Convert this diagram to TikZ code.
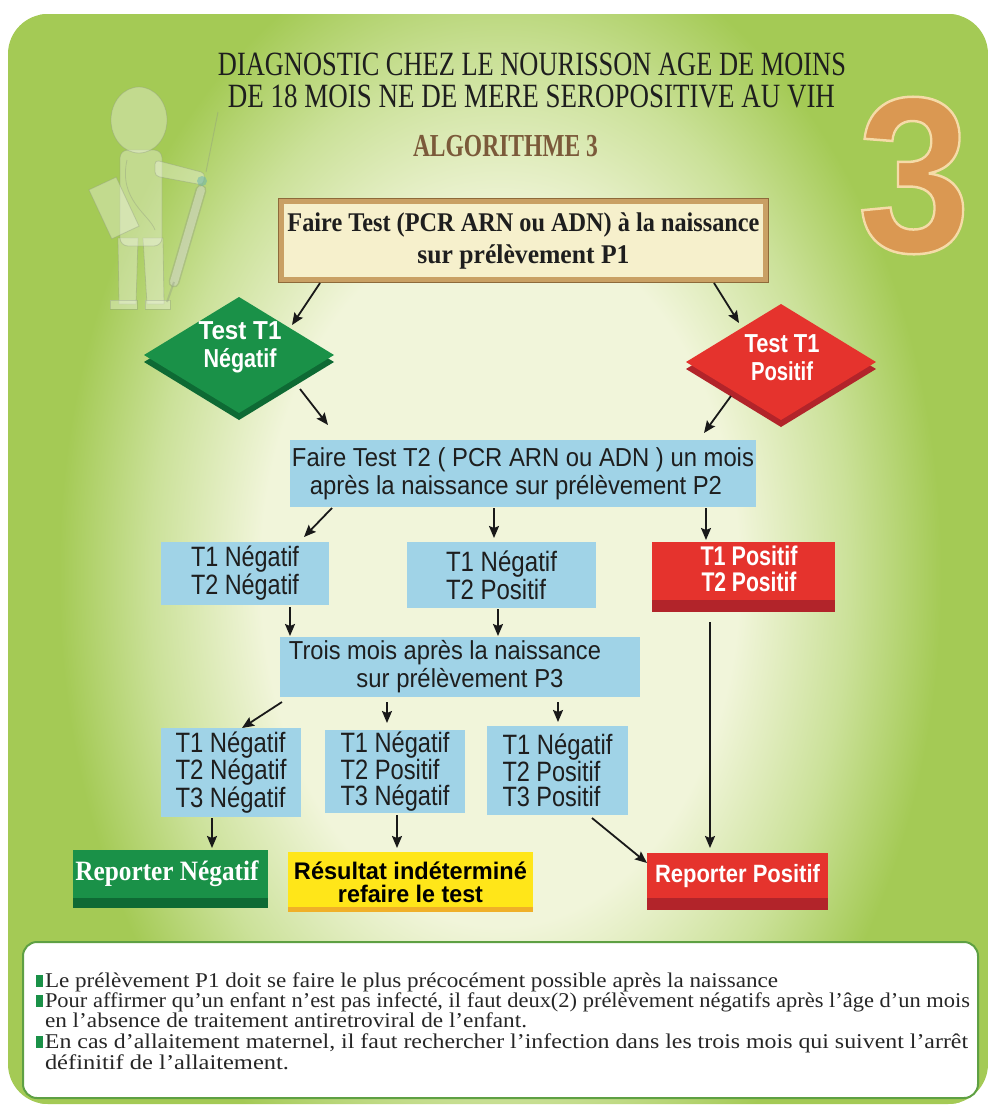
\documentclass[tikz,border=0pt]{standalone}
\usepackage{fontspec}
\usepackage{graphicx}
\setmainfont{Liberation Serif}
\newfontfamily\sansf{Liberation Sans}
\usetikzlibrary{shapes.geometric,arrows.meta,calc,shadows}

\definecolor{panelgreen}{HTML}{A4CA55}
\definecolor{panelmid}{HTML}{CBE199}
\definecolor{panelpale}{HTML}{F1F5DA}
\definecolor{boxblue}{HTML}{A0D3E7}
\definecolor{alertred}{HTML}{E5332D}
\definecolor{alertdark}{HTML}{B2242A}
\definecolor{okgreen}{HTML}{1A9148}
\definecolor{okdark}{HTML}{0E6A34}
\definecolor{warnyellow}{HTML}{FFE619}
\definecolor{warnorange}{HTML}{F0B028}
\definecolor{framegold}{HTML}{C9A064}
\definecolor{framedark}{HTML}{8E6A3A}
\definecolor{cream}{HTML}{F6F0CC}
\definecolor{titlebrown}{HTML}{7B5A3A}
\definecolor{notegreen}{HTML}{5EA043}
\definecolor{goldmain}{HTML}{DA9852}
\definecolor{figfill}{HTML}{F4F6EC}
\definecolor{figline}{HTML}{8F9A80}
\definecolor{inkdark}{HTML}{1E1E1E}

% the path covers the central 50bp of a shading, so 25bp is the path edge
\pgfdeclareradialshading{panelglow}{\pgfpoint{0bp}{0bp}}{%
  color(0bp)=(panelpale); color(13bp)=(panelpale); color(19bp)=(panelmid);
  color(24bp)=(panelgreen); color(50bp)=(panelgreen)}

% one line of text squeezed to a given width (in pt), height kept
\newcommand\fitline[2]{\resizebox{#1pt}{\height}{#2}}
% glyphs filled and stroked with a light rim
\newcommand\rimtext[1]{\special{pdf:literal direct 2 Tr 2.5 w 0.96 0.86 0.66 RG}#1\special{pdf:literal direct 0 Tr}}

\tikzset{
  every node/.style={inner sep=0pt, outer sep=0pt},
  arr/.style={-{Stealth[length=12pt,width=10pt,inset=2pt]}, line width=1.8pt, draw=black!90},
  framebox/.style={fill=cream, draw=framegold, line width=5pt,
    preaction={draw=framedark, line width=7pt}, align=center, text=inkdark},
  bluebox/.style={fill=boxblue, text=inkdark, align=left},
  redbox/.style={fill=alertred, path picture={\fill[alertdark]
    (path picture bounding box.south west) rectangle ([yshift=12pt]path picture bounding box.south east);}},
  greenbox/.style={fill=okgreen, path picture={\fill[okdark]
    (path picture bounding box.south west) rectangle ([yshift=10pt]path picture bounding box.south east);}},
  yellowbox/.style={fill=warnyellow, align=center, text=black, path picture={\fill[warnorange]
    (path picture bounding box.south west) rectangle ([yshift=5pt]path picture bounding box.south east);}},
  decision/.style={diamond, minimum width=190pt, minimum height=116pt},
  bluefont/.style={font=\sansf\fontsize{28}{28}\selectfont},
  tallfont/.style={font=\sansf\fontsize{28}{25.5}\selectfont},
  whitebold/.style={text=white, align=center, font=\sansf\bfseries\fontsize{26}{28}\selectfont},
}

\begin{document}
\begin{tikzpicture}[x=1pt,y=-1pt]
\useasboundingbox (0,0) rectangle (992,1106);
\fill[white] (0,0) rectangle (992,1106);

% green panel with an oval pale glow in the middle
\begin{scope}
  \clip[rounded corners=40pt] (8,14) rectangle (988,1104);
  \fill[panelgreen] (8,14) rectangle (988,1104);
  \shade[shading=panelglow] (40,-100) rectangle (960,1250);
\end{scope}

% ghosted doctor with syringe, top left
\begin{scope}[opacity=0.38, line width=0.8pt]
  \filldraw[fill=figfill, draw=figline] (118,238) -- (138,238) -- (136,304) -- (119,304) -- cycle;
  \filldraw[fill=figfill, draw=figline] (143,238) -- (163,238) -- (164,304) -- (147,304) -- cycle;
  \filldraw[fill=figfill, draw=figline] (110,300) rectangle (137,309);
  \filldraw[fill=figfill, draw=figline] (145,300) rectangle (170,309);
  \filldraw[fill=figfill, draw=figline, rounded corners=8pt] (120,150) rectangle (162,246);
  \filldraw[fill=figfill, draw=figline, rounded corners=4pt] (155,160) -- (205,173) -- (203,185) -- (155,176) -- cycle;
  \filldraw[fill=figfill, draw=figline] (139,120) ellipse [x radius=28, y radius=33];
  \filldraw[fill=figfill, draw=figline, rotate around={25:(114,208)}] (99,181) rectangle (129,235);
  \draw[figline] (127,160) .. controls (118,200) and (150,215) .. (155,230);
  \draw[figline, line width=1pt] (218,112) -- (206,172);
  \draw[figline, line width=11pt, line cap=round] (201,190) -- (174,282);
  \draw[figfill, line width=8pt, line cap=round] (201,190) -- (174,282);
  \draw[figline, line width=2pt] (174,282) -- (167,302);
\end{scope}
\fill[teal!60, opacity=0.5] (202,181) circle [radius=5];

% big number in the top right corner
\node[text=goldmain, font=\sansf\bfseries\fontsize{222}{222}\selectfont] (n3) at (914,175.5)
  {\fitline{113}{\rimtext{3}}};

% headings
\node[anchor=base, text=inkdark, font=\fontsize{34}{34}\selectfont] (title1) at (532,75) {\fitline{628}{DIAGNOSTIC CHEZ LE NOURISSON AGE DE MOINS}};
\node[anchor=base, text=inkdark, font=\fontsize{34}{34}\selectfont] (title2) at (531.5,107) {\fitline{607}{DE 18 MOIS NE DE MERE SEROPOSITIVE AU VIH}};
\node[anchor=base, text=titlebrown, font=\bfseries\fontsize{32}{32}\selectfont] (algo) at (505.5,156) {\fitline{185}{ALGORITHME 3}};

% first test
\node[framebox, minimum width=484pt, minimum height=78pt, font=\bfseries\fontsize{27}{32}\selectfont] (b1) at (523.5,240.5)
  {\fitline{472}{Faire Test (PCR ARN ou ADN) à la naissance}\\\fitline{212}{sur prélèvement P1}};

% decisions on test T1
\node[decision, fill=okgreen, drop shadow={shadow xshift=0pt, shadow yshift=-7pt, fill=okdark, opacity=1}] (gd) at (239,355) {};
\node[whitebold] (gdtext) at (240,347) {\fitline{83}{Test T1}\\\fitline{73}{Négatif}};
\node[decision, fill=alertred, drop shadow={shadow xshift=0pt, shadow yshift=-7pt, fill=alertdark, opacity=1}] (rd) at (781,362) {};
\node[whitebold] (rdtext) at (782,358) {\fitline{75}{Test T1}\\\fitline{62}{Positif}};

% second test
\node[bluebox, align=center, minimum width=466pt, minimum height=67pt, font=\sansf\fontsize{26}{28}\selectfont] (t2) at (523,473.5)
  {\fitline{462}{Faire Test T2 ( PCR ARN ou ADN ) un mois}\\\fitline{412}{après la naissance sur prélèvement P2}\hspace*{14pt}};

\node[bluebox, bluefont, minimum width=168pt, minimum height=63pt] (a) at (245,573.5)
  {\fitline{108}{T1 Négatif}\\\fitline{108}{T2 Négatif}};
\node[bluebox, bluefont, minimum width=189pt, minimum height=66pt] (b) at (501.5,575)
  {\fitline{111}{T1 Négatif}\\\fitline{100}{T2 Positif}};
\node[redbox, minimum width=183pt, minimum height=70pt] (c) at (743.5,577) {};
\node[whitebold, font=\sansf\bfseries\fontsize{27}{26}\selectfont] (ctext) at (749,569) {\fitline{97}{T1 Positif}\\\fitline{95}{T2 Positif}};

% third test
\node[bluebox, align=center, minimum width=360pt, minimum height=60pt, font=\sansf\fontsize{26}{28}\selectfont] (p3) at (460,667)
  {\fitline{312}{Trois mois après la naissance}\hspace*{30pt}\\\fitline{207}{sur prélèvement P3}};

\node[bluebox, tallfont, minimum width=140pt, minimum height=89pt] (d) at (231,772.5)
  {\fitline{110}{T1 Négatif}\\\fitline{111}{T2 Négatif}\\\fitline{110}{T3 Négatif}};
\node[bluebox, tallfont, minimum width=140pt, minimum height=83pt] (e) at (395,771.5)
  {\fitline{109}{T1 Négatif}\\\fitline{99}{T2 Positif}\\\fitline{109}{T3 Négatif}};
\node[bluebox, tallfont, minimum width=141pt, minimum height=89pt] (f) at (557.5,770.5)
  {\fitline{110}{T1 Négatif}\\\fitline{98}{T2 Positif}\\\fitline{98}{T3 Positif}};

% outcomes
\node[greenbox, minimum width=195pt, minimum height=58pt] (rn) at (170.5,879) {};
\node[text=white, font=\bfseries\fontsize{28}{28}\selectfont] (rntext) at (167,874) {\fitline{183}{Reporter Négatif}};
\node[yellowbox, minimum width=245pt, minimum height=60pt, font=\sansf\bfseries\fontsize{24}{23}\selectfont] (ry) at (410.5,882)
  {\fitline{233}{Résultat indéterminé}\\\fitline{145}{refaire le test}};
\node[redbox, minimum width=181pt, minimum height=57pt] (rp) at (737.5,881.5) {};
\node[text=white, font=\sansf\bfseries\fontsize{25}{25}\selectfont] (rptext) at (737.5,876) {\fitline{165}{Reporter Positif}};

% connectors
\draw[arr] ($(b1)+(-203.5,42.5)$) -- ($(gd)+(53,-30)$);
\draw[arr] ($(b1)+(190.5,42.5)$) -- ($(rd)+(-42,-39)$);
\draw[arr] ($(gd)+(61,34)$) -- ($(t2)+(-195,-48.5)$);
\draw[arr] ($(rd)+(-50,34)$) -- ($(t2)+(181,-40.5)$);
\draw[arr] ($(t2)+(-191,34.5)$) -- ($(a)+(59,-36.5)$);
\draw[arr] ($(t2)+(-29,34.5)$) -- ($(b)+(-7.5,-37)$);
\draw[arr] ($(t2)+(183,34.5)$) -- ($(c)+(-37.5,-37)$);
\draw[arr] ($(a)+(45,33.5)$) -- ($(p3)+(-170,-31)$);
\draw[arr] ($(b)+(-3.5,34)$) -- ($(p3)+(38,-31)$);
\draw[arr] ($(c)+(-33.5,45)$) -- ($(rp)+(-27.5,-33.5)$);
\draw[arr] ($(p3)+(-178,35)$) -- ($(d)+(11,-44.5)$);
\draw[arr] ($(p3)+(-73,35)$) -- ($(e)+(-8,-48.5)$);
\draw[arr] ($(p3)+(98,35)$) -- ($(f)+(0.5,-48.5)$);
\draw[arr] ($(d)+(-19,45.5)$) -- ($(rn)+(41.5,-31)$);
\draw[arr] ($(e)+(2,43.5)$) -- ($(ry)+(-13.5,-34)$);
\draw[arr] ($(f)+(34.5,47.5)$) -- ($(rp)+(-90.5,-18.5)$);

% notes panel
\node[draw=notegreen, line width=2pt, fill=white, rounded corners=14pt,
  minimum width=955pt, minimum height=156pt] (notes) at (500.5,1020) {};
\begin{scope}[every node/.append style={anchor=base west, text=black!85, font=\fontsize{21}{21}\selectfont}]
  \node (nt1) at (45,987) {\fitline{733}{Le prélèvement P1 doit se faire le plus précocément possible après la naissance}};
  \node (nt2) at (45,1007) {\fitline{925}{Pour affirmer qu'un enfant n'est pas infecté, il faut deux(2) prélèvement négatifs après l'âge d'un mois}};
  \node (nt3) at (45,1027) {\fitline{482}{en l'absence de traitement antiretroviral de l'enfant.}};
  \node (nt4) at (45,1048) {\fitline{923}{En cas d'allaitement maternel, il faut rechercher l'infection dans les trois mois qui suivent l'arrêt}};
  \node (nt5) at (45,1069) {\fitline{244}{définitif de l'allaitement.}};
\end{scope}
\fill[okgreen] ($(nt1.base west)+(-9,-12)$) rectangle ($(nt1.base west)+(-2,0)$);
\fill[okgreen] ($(nt2.base west)+(-9,-12)$) rectangle ($(nt2.base west)+(-2,0)$);
\fill[okgreen] ($(nt4.base west)+(-9,-12)$) rectangle ($(nt4.base west)+(-2,0)$);
\end{tikzpicture}
\end{document}
